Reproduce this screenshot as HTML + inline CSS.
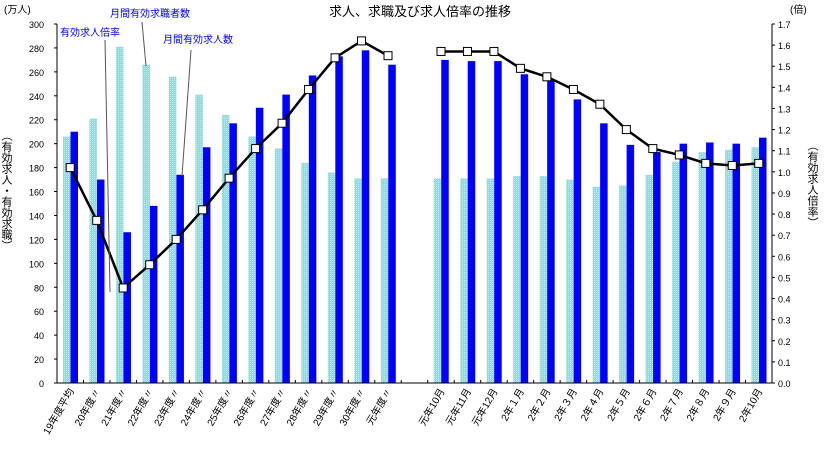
<!DOCTYPE html><html><head><meta charset="utf-8"><style>body{margin:0;background:#fff}svg text{font-family:"Liberation Sans","Noto Sans CJK JP",sans-serif}</style></head><body>
<svg id="c" width="839" height="452" xmlns="http://www.w3.org/2000/svg">
<defs><pattern id="dots" width="2" height="2" patternUnits="userSpaceOnUse"><rect width="2" height="2" fill="#8fdcd8"/><rect width="1" height="1" fill="#b8eaf0"/></pattern></defs>
<text x="420" y="16" font-size="13" text-anchor="middle">求人、求職及び求人倍率の推移</text>
<text x="4" y="13" font-size="10">(万人)</text>
<text x="790" y="13" font-size="10">(倍)</text>
<text x="6" y="130" font-size="11" writing-mode="tb">（有効求人・有効求職）</text>
<text x="812" y="140" font-size="11" writing-mode="tb">（有効求人倍率）</text>
<g id="g"></g>
<text x="60" y="36" font-size="10" fill="#0000ff">有効求人倍率</text>
<line x1="105" y1="40" x2="110" y2="292" stroke="#555"/>
<text x="110" y="17" font-size="10" fill="#0000ff">月間有効求職者数</text>
<line x1="142" y1="22" x2="146" y2="66" stroke="#555"/>
<text x="163" y="43" font-size="10" fill="#0000ff">月間有効求人数</text>
<line x1="191" y1="50" x2="182" y2="176" stroke="#555"/>
</svg>
<script>
const categories=["19年度平均","20年度〃","21年度〃","22年度〃","23年度〃","24年度〃","25年度〃","26年度〃","27年度〃","28年度〃","29年度〃","30年度〃","元年度〃",null,"元年10月","元年11月","元年12月","2年１月","2年２月","2年３月","2年４月","2年５月","2年６月","2年７月","2年８月","2年９月","2年10月"];
const seekers=[206,221,281,266,256,241,224,206,196,184,176,171,171,null,171,171,171,173,173,170,164,165,174,185,193,195,197];
const openings=[210,170,126,148,174,197,217,230,241,257,273,278,266,null,270,269,269,258,253,237,217,199,193,200,201,200,205];
const ratio=[1.02,0.77,0.45,0.56,0.68,0.82,0.97,1.11,1.23,1.39,1.54,1.62,1.55,null,1.57,1.57,1.57,1.49,1.45,1.39,1.32,1.20,1.11,1.08,1.04,1.03,1.04];
const leftTicks=[0,20,40,60,80,100,120,140,160,180,200,220,240,260,280,300];
const rightTicks=["0.0","0.1","0.2","0.3","0.4","0.5","0.6","0.7","0.8","0.9","1.0","1.1","1.2","1.3","1.4","1.5","1.6","1.7"];
const NS="http://www.w3.org/2000/svg",g=document.getElementById('g');
const X0=57,X1=772,Y0=383,Y1=24,slot=(X1-X0)/categories.length;
const yL=v=>Y0-(v/300)*(Y0-Y1), yR=v=>Y0-(v/1.7)*(Y0-Y1);
function el(t,a,p){const e=document.createElementNS(NS,t);for(const k in a)e.setAttribute(k,a[k]);(p||g).appendChild(e);return e;}
leftTicks.forEach(v=>{const t=el('text',{x:44,y:yL(v)+4,'font-size':9,'text-anchor':'end'});t.textContent=v;

});
rightTicks.forEach(v=>{const t=el('text',{x:778,y:yR(+v)+4,'font-size':9});t.textContent=v;

});
categories.forEach((c,i)=>{const x=X0+i*slot;
if(seekers[i]!=null){const b1=el('rect',{x:x+6,y:yL(seekers[i]),width:7.5,height:Y0-yL(seekers[i]),fill:'url(#dots)'});


const b2=el('rect',{x:x+13.5,y:yL(openings[i]),width:7.5,height:Y0-yL(openings[i]),fill:'#0000ff'});

}
el('line',{x1:x+slot,y1:Y0,x2:x+slot,y2:Y0-3,stroke:'#000'});
if(c){const cx=x+slot/2+4,cy=Y0+8;const t=el('text',{x:cx,y:cy,'font-size':10,'text-anchor':'end',transform:`rotate(-60 ${cx} ${cy})`});t.textContent=c;

}
});
el('line',{x1:X0,y1:Y1,x2:X0,y2:Y0,stroke:'#000'});el('line',{x1:X1,y1:Y1,x2:X1,y2:Y0,stroke:'#000'});el('line',{x1:X0,y1:Y0,x2:X1,y2:Y0,stroke:'#000'});
leftTicks.forEach(v=>el('line',{x1:X0-3,y1:yL(v),x2:X0,y2:yL(v),stroke:'#000'}));
rightTicks.forEach(v=>el('line',{x1:X1,y1:yR(+v),x2:X1+3,y2:yR(+v),stroke:'#000'}));
[[0,13],[14,27]].forEach(([a,b])=>{let d='';for(let i=a;i<b;i++)d+=(i==a?'M':'L')+(X0+i*slot+slot/2)+','+yR(ratio[i]);
const p=el('path',{d,fill:'none',stroke:'#000','stroke-width':2.5});

});
ratio.forEach((r,i)=>{if(r==null)return;const m=el('rect',{x:X0+i*slot+slot/2-4,y:yR(r)-4,width:8,height:8,fill:'#fff',stroke:'#000'});

});
</script></body></html>
